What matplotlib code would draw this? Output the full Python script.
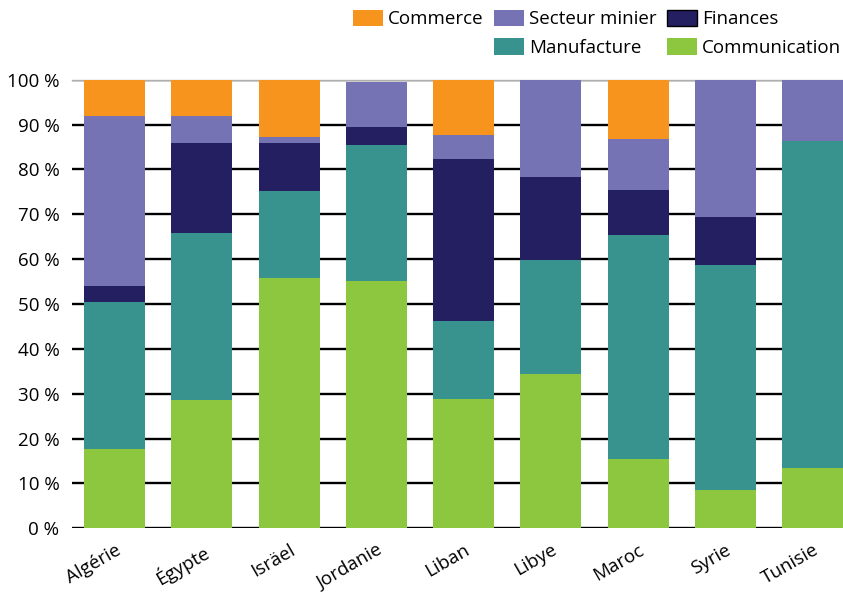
import numpy as np
import matplotlib
matplotlib.use("Agg")
import matplotlib.pyplot as plt
from matplotlib.patches import Rectangle

# data (percent of total)
countries = ["Algérie", "Égypte", "Isräel", "Jordanie", "Liban",
             "Libye", "Maroc", "Syrie", "Tunisie"]
communication = [17.7, 28.5, 55.8, 55.1, 28.8, 34.4, 15.5, 8.5, 13.4]
manufacture = [32.8, 37.3, 19.4, 30.4, 17.4, 25.4, 49.9, 50.2, 73.0]
finances = [3.6, 20.1, 10.7, 4.0, 36.1, 18.5, 10.0, 10.7, 0.0]
secteur_minier = [37.9, 6.1, 1.3, 10.1, 5.4, 21.7, 11.4, 30.6, 13.6]
commerce = [8.0, 8.0, 12.8, 0.0, 12.3, 0.0, 13.2, 0.0, 0.0]
yticks = [0, 10, 20, 30, 40, 50, 60, 70, 80, 90, 100]

c_comm = "#8dc63f"
c_manuf = "#38928e"
c_fin = "#241f61"
c_min = "#7673b5"
c_commerce = "#f7941e"

plt.rcParams['font.family'] = ['Open Sans', 'DejaVu Sans']

fig = plt.figure(figsize=(8.43, 5.94), dpi=100)
ax = fig.add_axes([72 / 843, 1 - 528.3 / 594, 1 - 72 / 843, (528.3 - 79.8) / 594])

x = np.arange(len(countries))
w = 0.7
series = [(communication, c_comm, "Communication"),
          (manufacture, c_manuf, "Manufacture"),
          (finances, c_fin, "Finances"),
          (secteur_minier, c_min, "Secteur minier"),
          (commerce, c_commerce, "Commerce")]
bottom = np.zeros(len(countries))
for vals, col, lab in series:
    ax.bar(x, vals, w, bottom=bottom, color=col, linewidth=0, zorder=3)
    bottom += np.array(vals)

ax.set_xlim(-0.49, 8.35)
ax.set_ylim(0, 100)
ax.set_yticks(yticks)
ax.set_yticklabels([f"{t} %" for t in yticks], fontsize=13.5)
ax.yaxis.grid(True, color="black", linewidth=1.7, zorder=0)
ax.set_axisbelow(True)
ax.tick_params(axis="y", length=0, pad=9)
ax.tick_params(axis="x", length=0, pad=9)
ax.set_xticks(x)
ax.set_xticklabels(countries, fontsize=13.5, rotation=30, ha="right",
                   va="top", rotation_mode="anchor")
for s in ["left", "right", "bottom"]:
    ax.spines[s].set_visible(False)
ax.spines["top"].set_color("#b0b0b0")
ax.spines["top"].set_linewidth(1.0)

# legend: Commerce alone in first column
def patch(col, edge="none"):
    return Rectangle((0, 0), 1, 1, facecolor=col, edgecolor=edge, linewidth=1)

handles = [patch(c_commerce), Rectangle((0, 0), 1, 1, fill=False, edgecolor="none"),
           patch(c_min), patch(c_manuf),
           patch(c_fin, "black"), patch(c_comm)]
labels = ["Commerce", "", "Secteur minier", "Manufacture", "Finances", "Communication"]
fig.legend(handles, labels, ncol=3, loc="upper right", bbox_to_anchor=(1.0, 0.987),
           frameon=False, fontsize=13.5, handlelength=1.6, handleheight=1.0,
           handletextpad=0.27, columnspacing=0.55, labelspacing=0.5,
           borderaxespad=0.0, borderpad=0.1)

fig.savefig("out.png", dpi=100)
